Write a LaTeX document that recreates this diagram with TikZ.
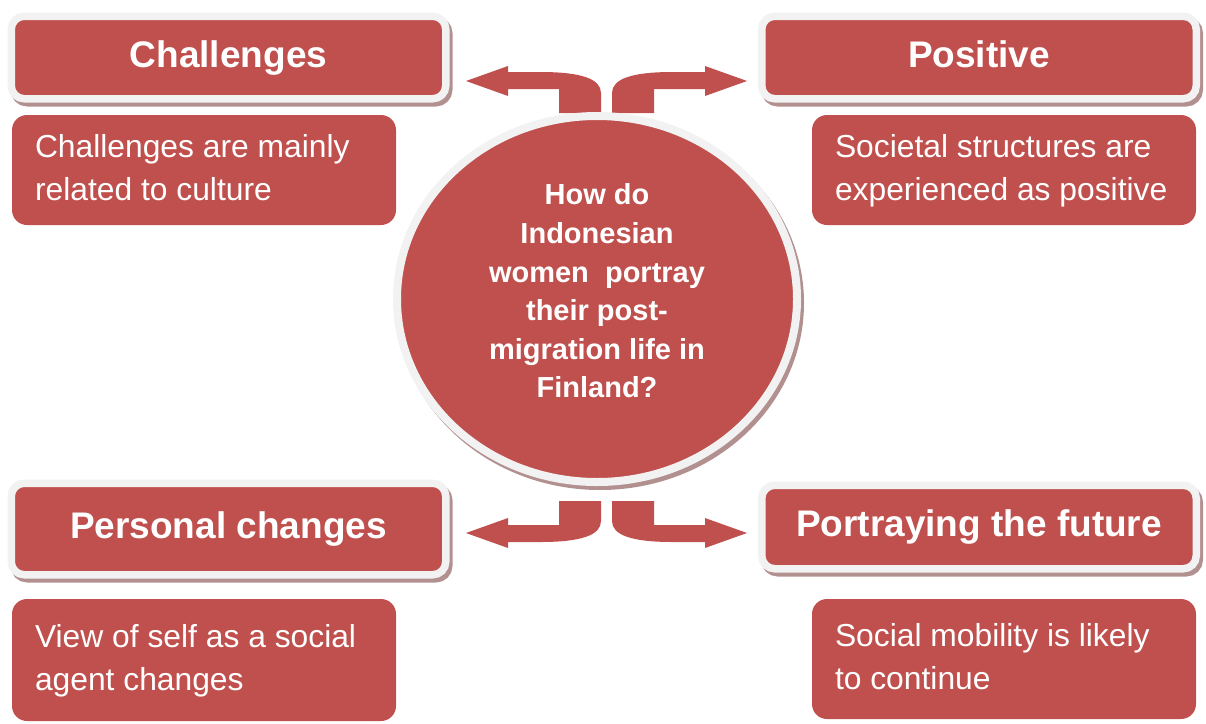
\documentclass[tikz,border=0pt]{standalone}
\usepackage{fontspec}
\setmainfont{Liberation Sans}
\usepackage{tikz}
\usetikzlibrary{shapes.geometric}
\definecolor{boxred}{HTML}{C0504D}
\definecolor{rimgray}{HTML}{F2F2F2}
\definecolor{shadowred}{HTML}{B39090}
\tikzset{
	headbox/.style={rectangle,rounded corners=13pt,fill=boxred,draw=rimgray,line width=7.5pt,
		minimum width=434.5pt,inner sep=0pt,text=white,text height=27pt,text depth=8pt,
		font=\bfseries\fontsize{37}{44}\selectfont,
		preaction={draw=shadowred,fill=shadowred,transform canvas={shift={(3pt,-4pt)}}}},
	notebox/.style={rectangle,rounded corners=15pt,fill=boxred,text=white,text width=338pt,
		inner xsep=23pt,inner ysep=0pt,align=flush left,font=\fontsize{31.8}{43}\selectfont},
	hub/.style={ellipse,fill=boxred,draw=rimgray,line width=8pt,inner sep=0pt,
		minimum width=400pt,minimum height=366pt,
		preaction={draw=shadowred,fill=shadowred,transform canvas={shift={(3pt,-4pt)}}}},
	hubtext/.style={text=white,align=center,font=\bfseries\fontsize{29}{38.6}\selectfont}
}
% bent block arrow, drawn once and mirrored: [xscale=-1] right, [yscale=-1] down
\def\bentarrow[#1]{\begin{scope}[shift={(606.5,307)},#1]
	\fill[boxred] (-5.5,-194) -- (-5.5,-214) .. controls (-5.5,-228) and (-25,-235) .. (-66,-235)
		-- (-98.5,-235) -- (-98.5,-241) -- (-140.5,-226) -- (-98.5,-211) -- (-98.5,-218)
		-- (-47.5,-218) -- (-47.5,-194) -- cycle;
	\end{scope}}

\begin{document}
\begin{tikzpicture}[x=1pt,y=-1pt]
	\useasboundingbox (0,0) rectangle (1206,723);
	\bentarrow[]	\bentarrow[xscale=-1]
	\bentarrow[yscale=-1]	\bentarrow[xscale=-1,yscale=-1]
	%
	\node[hub] (hub) at (597,299) {};
	\node[hubtext] (question) at (597,291) {How do\\Indonesian\\women\ \ portray\\their post-\\migration life in\\Finland?};
	%
	\node[headbox,minimum height=82.5pt] (chal) at (228.5,57.5) {Challenges};
	\node[headbox,minimum height=82.5pt] (posi) at (979,57.5) {Positive};
	\node[headbox,minimum height=91.5pt] (pers) at (228.5,529) {Personal changes};
	\node[headbox,minimum height=83.5pt] (futu) at (979,527) {Portraying the future};
	%
	\node[notebox,minimum height=110pt] (chalnote) at (204,170) {\strut Challenges are mainly\\related to culture\strut};
	\node[notebox,minimum height=110pt] (posinote) at (1004,170) {\strut Societal structures are\\experienced as positive\strut};
	\node[notebox,minimum height=122pt] (persnote) at (204,660) {\strut View of self as a social\\agent changes\strut};
	\node[notebox,minimum height=120pt] (futunote) at (1004,659) {\strut Social mobility is likely\\to continue\strut};
\end{tikzpicture}
\end{document}
